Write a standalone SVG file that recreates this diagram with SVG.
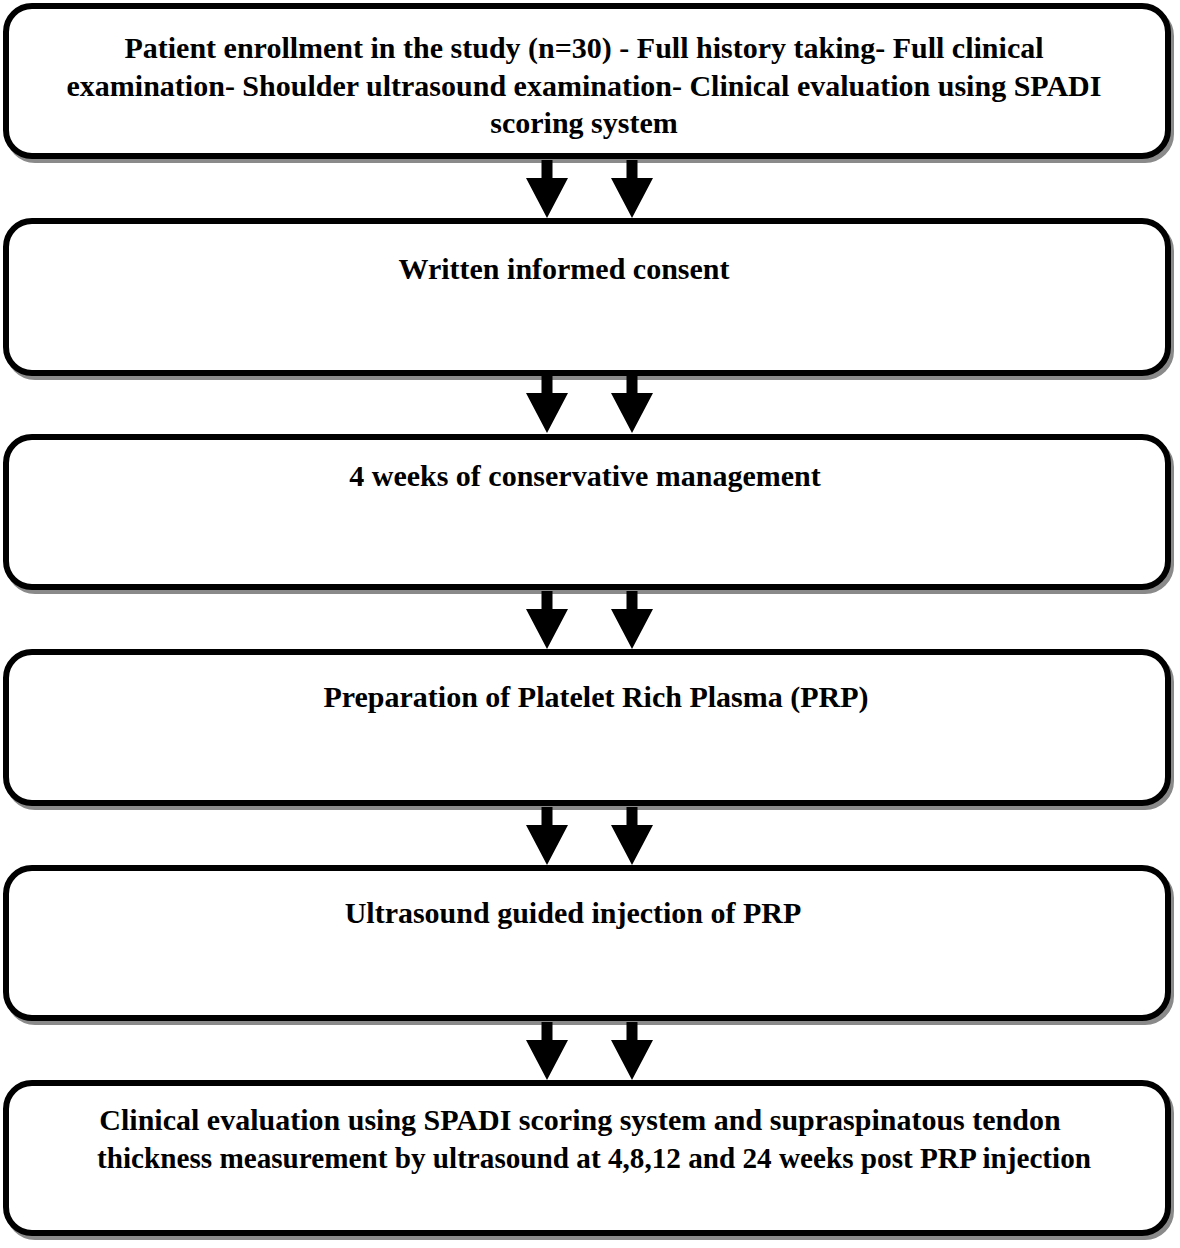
<svg xmlns="http://www.w3.org/2000/svg" width="1180" height="1248" viewBox="0 0 1180 1248">
<defs>
<style>
.box{fill:#fff;stroke:#000;stroke-width:6}
.sh{fill:none;stroke:#8a8a8a;stroke-width:6}
.t{font-family:"Liberation Serif","Times New Roman",serif;font-weight:bold;font-size:30px;fill:#000;text-anchor:middle}
.ar{fill:#000}
</style>
<symbol id="arrow" overflow="visible">
<path d="M-5.5,0 H5.5 V18 H21 L0,58 L-21,18 H-5.5 Z"/>
</symbol>
</defs>
<rect width="1180" height="1248" fill="#fff"/>
<g id="node1">
<rect class="sh" x="9" y="10" width="1162" height="150" rx="26"/>
<rect class="box" x="6" y="6" width="1162" height="150" rx="26"/>
<text class="t" x="584" y="58">Patient enrollment in the study (n=30) - Full history taking- Full clinical</text>
<text class="t" x="584" y="96">examination- Shoulder ultrasound examination- Clinical evaluation using SPADI</text>
<text class="t" x="584" y="133">scoring system</text>
</g>
<g id="node2">
<rect class="sh" x="9" y="225" width="1162" height="152" rx="26"/>
<rect class="box" x="6" y="221" width="1162" height="152" rx="26"/>
<text class="t" x="564" y="279">Written informed consent</text>
</g>
<g id="node3">
<rect class="sh" x="9" y="441" width="1162" height="150" rx="26"/>
<rect class="box" x="6" y="437" width="1162" height="150" rx="26"/>
<text class="t" x="585" y="486">4 weeks of conservative management</text>
</g>
<g id="node4">
<rect class="sh" x="9" y="656" width="1162" height="151" rx="26"/>
<rect class="box" x="6" y="652" width="1162" height="151" rx="26"/>
<text class="t" x="596" y="707">Preparation of Platelet Rich Plasma (PRP)</text>
</g>
<g id="node5">
<rect class="sh" x="9" y="872" width="1162" height="150" rx="26"/>
<rect class="box" x="6" y="868" width="1162" height="150" rx="26"/>
<text class="t" x="573" y="923">Ultrasound guided injection of PRP</text>
</g>
<g id="node6">
<rect class="sh" x="9" y="1087" width="1162" height="150" rx="26"/>
<rect class="box" x="6" y="1083" width="1162" height="150" rx="26"/>
<text class="t" x="580" y="1130">Clinical evaluation using SPADI scoring system and supraspinatous tendon</text>
<text class="t" x="594" y="1168" textLength="994" lengthAdjust="spacingAndGlyphs">thickness measurement by ultrasound at 4,8,12 and 24 weeks post PRP injection</text>
</g>
<g id="connectors" class="ar">
<use href="#arrow" x="547" y="160"/>
<use href="#arrow" x="632" y="160"/>
<use href="#arrow" x="547" y="375"/>
<use href="#arrow" x="632" y="375"/>
<use href="#arrow" x="547" y="591"/>
<use href="#arrow" x="632" y="591"/>
<use href="#arrow" x="547" y="807"/>
<use href="#arrow" x="632" y="807"/>
<use href="#arrow" x="547" y="1022"/>
<use href="#arrow" x="632" y="1022"/>
</g>
</svg>
